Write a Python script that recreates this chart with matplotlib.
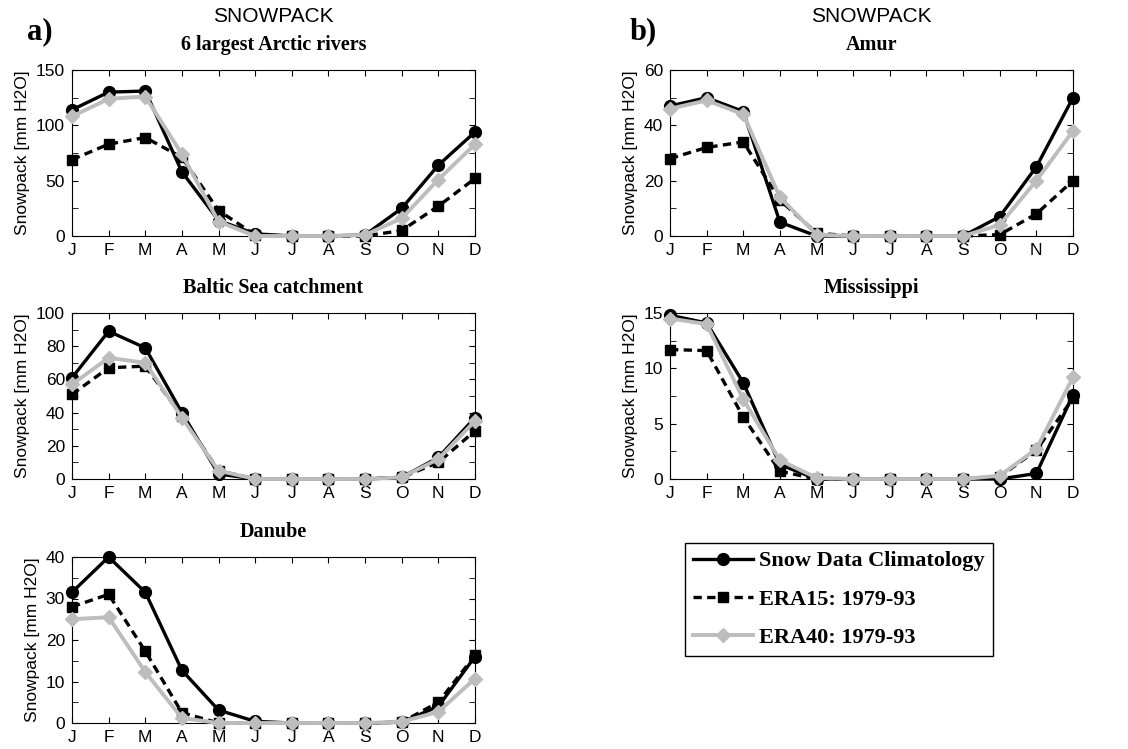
import numpy as np
import matplotlib
matplotlib.use('Agg')
import matplotlib.pyplot as plt
from matplotlib.ticker import MultipleLocator

months = ['J', 'F', 'M', 'A', 'M', 'J', 'J', 'A', 'S', 'O', 'N', 'D']

# snow data climatology / ERA15 / ERA40, one triple per basin
arctic_snow = [114, 130, 131, 58, 14, 2, 0, 0, 1, 25, 64, 94]
arctic_era15 = [69, 83, 89, 71, 23, 1, 0, 0, 0, 5, 27, 52]
arctic_era40 = [108, 124, 126, 74, 13, 0, 0, 0, 1, 16, 51, 83]

amur_snow = [47, 50, 45, 5, 0, 0, 0, 0, 0, 7, 25, 50]
amur_era15 = [28, 32, 34, 13, 1, 0, 0, 0, 0, 0.5, 8, 20]
amur_era40 = [46, 49, 44, 14, 0.5, 0, 0, 0, 0, 4, 20, 38]

baltic_snow = [61, 89, 79, 40, 3, 0, 0, 0, 0, 1, 13, 37]
baltic_era15 = [51, 67, 68, 38, 5, 0, 0, 0, 0, 1, 10, 29]
baltic_era40 = [57, 73, 70, 37, 5, 0, 0, 0, 0, 1, 12, 35]

miss_snow = [14.8, 14.1, 8.7, 1.3, 0, 0, 0, 0, 0, 0, 0.5, 7.6]
miss_era15 = [11.7, 11.6, 5.6, 0.7, 0, 0, 0, 0, 0, 0.2, 2.6, 7.3]
miss_era40 = [14.5, 14.0, 7.2, 1.7, 0.1, 0, 0, 0, 0, 0.3, 2.7, 9.2]

danube_snow = [31.5, 40, 31.5, 12.7, 3.1, 0.4, 0, 0, 0, 0.2, 4, 16]
danube_era15 = [28, 31, 17.3, 2.5, 0, 0, 0, 0, 0, 0.2, 5, 16.3]
danube_era40 = [25, 25.5, 12.3, 1.2, 0, 0, 0, 0, 0, 0.3, 2.7, 10.7]

W, H = 1128, 749
fig = plt.figure(figsize=(W / 100, H / 100), dpi=100)

serif = 'Liberation Serif'
sans = 'Liberation Sans'
gray = '#bdbdbd'


def panel(px_left, px_top, snow, era15, era40, title, ymax, major, minor, top_title=None):
    ax = fig.add_axes([px_left / W, 1 - (px_top + 166) / H, 403 / W, 166 / H])
    x = np.arange(1, 13)
    l1, = ax.plot(x, snow, '-o', color='black', lw=2.4, ms=8.5, clip_on=False, zorder=3,
                  label='Snow Data Climatology')
    l2, = ax.plot(x, era15, '--s', color='black', lw=2.4, ms=7, clip_on=False, zorder=4,
                  dashes=(2.5, 1.6), label='ERA15: 1979-93')
    l3, = ax.plot(x, era40, '-D', color=gray, lw=2.8, ms=7, clip_on=False, zorder=5,
                  label='ERA40: 1979-93')
    ax.set_xlim(1, 12)
    ax.set_ylim(0, ymax)
    ax.set_xticks(x)
    ax.set_xticklabels(months)
    ax.yaxis.set_major_locator(MultipleLocator(major))
    ax.yaxis.set_minor_locator(MultipleLocator(minor))
    ax.tick_params(which='both', direction='in', top=True, right=True,
                   labelsize=12.5, length=4)
    ax.tick_params(axis='x', pad=5)
    ax.tick_params(axis='y', pad=5)
    for lab in ax.get_xticklabels() + ax.get_yticklabels():
        lab.set_family(sans)
    ax.set_ylabel('Snowpack [mm H2O]', fontsize=12.5, family=sans, labelpad=4)
    ax.text(0.5, 1 + 25 / 166, title, transform=ax.transAxes, ha='center', va='center',
            fontsize=14.5, fontweight='bold', family=serif)
    if top_title:
        ax.text(0.5, 1 + 53 / 166, top_title, transform=ax.transAxes, ha='center',
                va='center', fontsize=15, family=sans)
    return ax, (l1, l2, l3)


panel(72, 70, arctic_snow, arctic_era15, arctic_era40, '6 largest Arctic rivers',
      150, 50, 25, 'SNOWPACK')
panel(670, 70, amur_snow, amur_era15, amur_era40, 'Amur', 60, 20, 10, 'SNOWPACK')
panel(72, 313, baltic_snow, baltic_era15, baltic_era40, 'Baltic Sea catchment', 100, 20, 10)
panel(670, 313, miss_snow, miss_era15, miss_era40, 'Mississippi', 15, 5, 2.5)
ax, handles = panel(72, 557, danube_snow, danube_era15, danube_era40, 'Danube', 40, 10, 5)

fig.text(40 / W, 1 - 32 / H, 'a)', ha='center', va='center', fontsize=22,
         fontweight='bold', family=serif)
fig.text(643 / W, 1 - 32 / H, 'b)', ha='center', va='center', fontsize=22,
         fontweight='bold', family=serif)

leg = fig.legend(handles=list(handles), loc='upper left',
                 bbox_to_anchor=(685 / W, 1 - 543 / H), borderaxespad=0,
                 fancybox=False, edgecolor='black', framealpha=1,
                 prop={'family': serif, 'weight': 'bold', 'size': 16},
                 handlelength=2.7, labelspacing=0.8, borderpad=0.35,
                 handletextpad=0.3)
leg.get_frame().set_linewidth(1.0)

fig.savefig('out.png', dpi=100)
